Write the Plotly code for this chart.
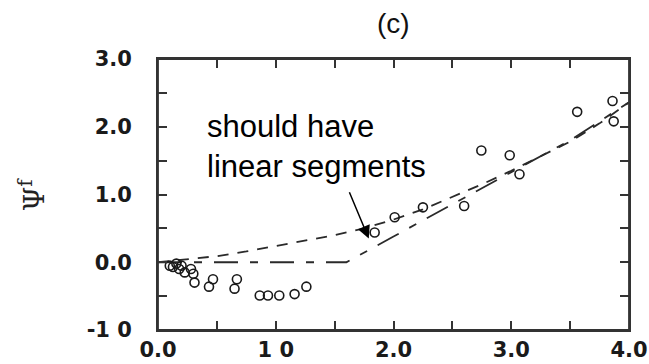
import plotly.graph_objects as go

# ---- data ----
obs_x = [0.10, 0.127, 0.156, 0.18, 0.20, 0.227, 0.28, 0.30, 0.31, 0.433, 0.467, 0.65, 0.67,
         0.864, 0.934, 1.03, 1.16, 1.26,
         1.84, 2.01, 2.25, 2.60, 2.746, 2.987, 3.07, 3.56, 3.86, 3.87]
obs_y = [-0.05, -0.07, -0.02, -0.10, -0.05, -0.15, -0.10, -0.17, -0.30, -0.36, -0.25, -0.39, -0.25,
         -0.49, -0.49, -0.49, -0.47, -0.36,
         0.44, 0.665, 0.81, 0.83, 1.65, 1.58, 1.30, 2.22, 2.38, 2.08]

upper_x = [0, 0.25, 0.5, 0.75, 1.0, 1.25, 1.5, 1.75, 2.0, 2.25, 2.5, 2.75, 3.0, 3.25, 3.5, 3.75, 4.0]
upper_y = [0, 0.04, 0.09, 0.16, 0.24, 0.31, 0.40, 0.50, 0.63, 0.78, 0.96, 1.15, 1.35, 1.56, 1.78, 2.05, 2.36]

lower_x = [0, 1.6, 2.0, 2.5, 3.0, 3.5, 4.0]
lower_y = [0, 0, 0.38, 0.86, 1.33, 1.80, 2.36]

x_tickvals = [0, 0.5, 1, 1.5, 2, 2.5, 3, 3.5, 4]
x_ticktext = ["0.0", "", "1 0", "", "2.0", "", "3.0", "", "4.0"]
y_tickvals = [-1, -0.5, 0, 0.5, 1, 1.5, 2, 2.5, 3]
y_ticktext = ["-1 0", "", "0.0", "", "1.0", "", "2.0", "", "3.0"]

line_col = "#2a2a2a"
axis_col = "#333333"

fig = go.Figure()
fig.add_trace(go.Scatter(x=upper_x, y=upper_y, mode="lines",
                         line=dict(color=line_col, width=1.8, dash="11px,9px")))
fig.add_trace(go.Scatter(x=lower_x, y=lower_y, mode="lines",
                         line=dict(color=line_col, width=1.8, dash="24px,12px,8px,12px")))
fig.add_trace(go.Scatter(x=obs_x, y=obs_y, mode="markers",
                         marker=dict(symbol="circle-open", size=9, color="#1a1a1a",
                                     line=dict(width=1.6, color="#1a1a1a"))))

tickfont = dict(family="DejaVu Sans", size=21, color="#1a1a1a", weight="bold")
common = dict(showgrid=False, zeroline=False, showline=True, linecolor=axis_col, linewidth=1.8,
              mirror="allticks", ticks="inside", ticklen=9, tickwidth=1.6, tickcolor=axis_col,
              tickfont=tickfont, automargin=False)

fig.update_xaxes(range=[0, 4], tickmode="array", tickvals=x_tickvals, ticktext=x_ticktext,
                 ticklabelstandoff=0, **common)
fig.update_yaxes(range=[-1, 3], tickmode="array", tickvals=y_tickvals, ticktext=y_ticktext,
                 ticklabelstandoff=20, **common)

# frame around the plotting area
fig.add_shape(type="rect", xref="paper", yref="paper", x0=0, y0=0, x1=1, y1=1,
              line=dict(color=axis_col, width=1.8), layer="above")

fig.add_annotation(text="should have<br>linear segments", x=0.397, y=1.71, xref="x", yref="y",
                   xanchor="left", yanchor="middle", align="left", showarrow=False,
                   font=dict(family="Liberation Sans", size=31, color="#000000"))
fig.add_annotation(text=" ", x=1.79, y=0.35, xref="x", yref="y", ax=1.60, ay=1.14,
                   axref="x", ayref="y", showarrow=True, arrowhead=2, arrowsize=1.7,
                   arrowwidth=1.5, arrowcolor="#000000")
fig.add_annotation(text="(c)", x=0.5, y=(330 - 24) / 271, xref="paper", yref="paper",
                   xanchor="center", yanchor="middle", showarrow=False,
                   font=dict(family="Liberation Sans", size=28, color="#111111"))
fig.add_annotation(text="Ψ<sup>f</sup>", x=(33 - 158.3) / 471, y=0.5, xref="paper", yref="paper",
                   xanchor="center", yanchor="middle", textangle=-90, showarrow=False,
                   font=dict(family="DejaVu Serif", size=28, color="#222222"))

fig.update_layout(width=649, height=364, margin=dict(l=158, r=20, t=59, b=34, autoexpand=False),
                  paper_bgcolor="white", plot_bgcolor="white", showlegend=False)

fig.write_html("out.html")
